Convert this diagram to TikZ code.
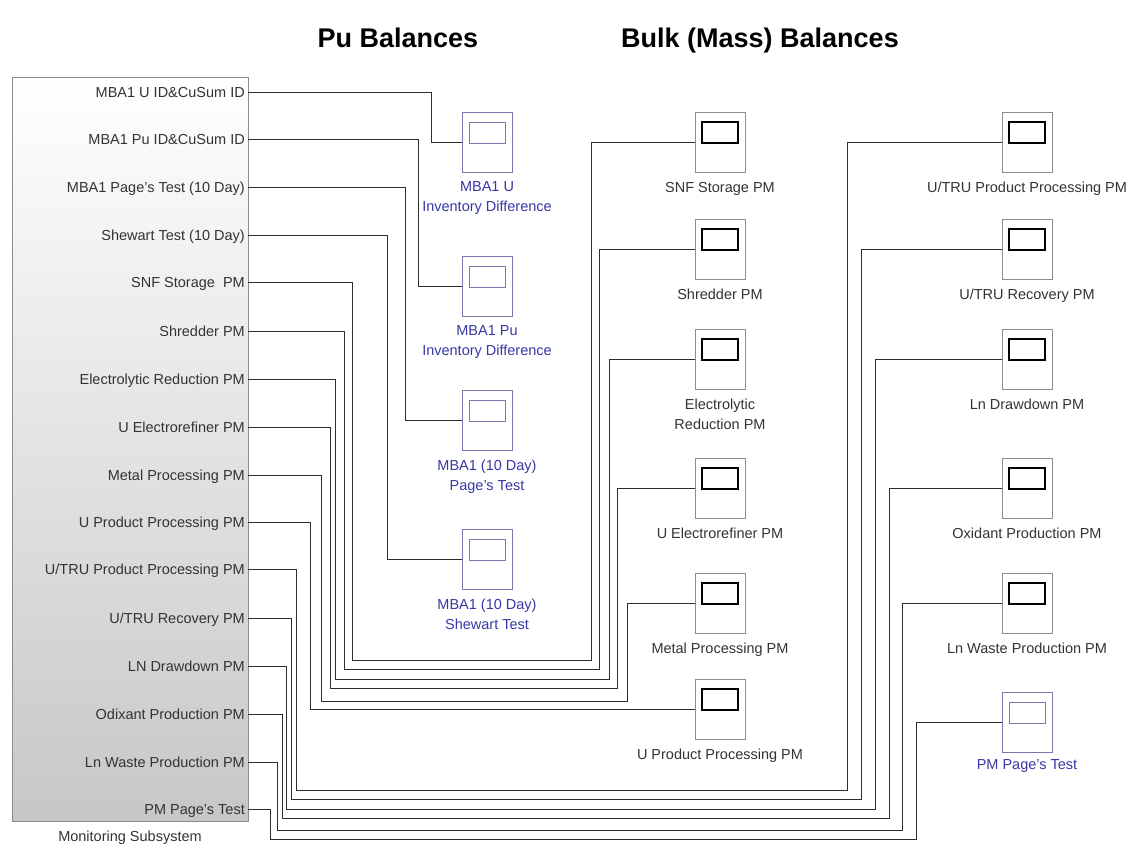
\documentclass[tikz,border=0pt]{standalone}
\usepackage{fontspec}
\setmainfont{Liberation Sans}
\usepackage{tikz}
\usetikzlibrary{positioning}

\definecolor{publue}{RGB}{55,55,165}
\definecolor{puframe}{RGB}{120,120,175}
\definecolor{wirecol}{RGB}{45,45,45}

\begin{document}
\begin{tikzpicture}[
  x=1pt, y=-1pt,
  font=\fontsize{14.5}{20}\selectfont,
  block/.style={draw=black!45, top color=white, bottom color=black!22, minimum width=236pt, minimum height=744pt, inner sep=0pt},
  port/.style={anchor=east, inner xsep=3pt, inner ysep=0pt, text height=11pt, text depth=0pt, text=black!80},
  puscope/.style={draw=puframe, minimum width=50pt, minimum height=60pt, inner sep=0pt,
    path picture={\draw[draw=puframe] ([shift={(7pt,-10pt)}]path picture bounding box.north west) rectangle ++(36pt,-21pt);}},
  bulkscope/.style={draw=black!45, minimum width=50pt, minimum height=60pt, inner sep=0pt,
    path picture={\draw[draw=black, line width=1.6pt] ([shift={(7pt,-10pt)}]path picture bounding box.north west) rectangle ++(36pt,-21pt);}},
  pulabel/.style={text=publue, align=center, inner sep=2pt},
  bulklabel/.style={text=black!80, align=center, inner sep=2pt},
  wire/.style={draw=wirecol, line width=0.7pt},
  title/.style={anchor=base, font=\fontsize{27}{30}\selectfont\bfseries}
]
\useasboundingbox (0,0) rectangle (1134,846);

% headings
\node[title] (putitle) at (398,47) {Pu Balances};
\node[title] (bulktitle) at (760,47) {Bulk (Mass) Balances};

% monitoring subsystem block
\node[block] (mon) at (130,449) {};
\node[below=8pt of mon, inner sep=2pt, text=black!80] (monlabel) {Monitoring Subsystem};

% output ports
\node[port] (p1) at (248,92) {MBA1 U ID\&CuSum ID};
\node[port] (p2) at (248,139) {MBA1 Pu ID\&CuSum ID};
\node[port] (p3) at (248,187) {MBA1 Page's Test (10 Day)};
\node[port] (p4) at (248,235) {Shewart Test (10 Day)};
\node[port] (p5) at (248,282) {SNF Storage\ \ PM};
\node[port] (p6) at (248,331) {Shredder PM};
\node[port] (p7) at (248,379) {Electrolytic Reduction PM};
\node[port] (p8) at (248,427) {U Electrorefiner PM};
\node[port] (p9) at (248,475) {Metal Processing PM};
\node[port] (p10) at (248,522) {U Product Processing PM};
\node[port] (p11) at (248,569) {U/TRU Product Processing PM};
\node[port] (p12) at (248,618) {U/TRU Recovery PM};
\node[port] (p13) at (248,666) {LN Drawdown PM};
\node[port] (p14) at (248,714) {Odixant Production PM};
\node[port] (p15) at (248,762) {Ln Waste Production PM};
\node[port] (p16) at (248,809) {PM Page's Test};

% Pu balance scopes
\node[puscope] (s1) at (487,142) {};
\node[pulabel, below=7.5pt of s1] (s1l) {MBA1 U\\Inventory Difference};
\node[puscope] (s2) at (487,286) {};
\node[pulabel, below=7.5pt of s2] (s2l) {MBA1 Pu\\Inventory Difference};
\node[puscope] (s3) at (487,420) {};
\node[pulabel, below=7.5pt of s3] (s3l) {MBA1 (10 Day)\\Page's Test};
\node[puscope] (s4) at (487,559) {};
\node[pulabel, below=7.5pt of s4] (s4l) {MBA1 (10 Day)\\Shewart Test};

% bulk balance scopes
\node[bulkscope] (b1) at (720,142) {};
\node[bulklabel, below=7.5pt of b1] (b1l) {SNF Storage PM};
\node[bulkscope] (b2) at (720,249) {};
\node[bulklabel, below=7.5pt of b2] (b2l) {Shredder PM};
\node[bulkscope] (b3) at (720,359) {};
\node[bulklabel, below=7.5pt of b3] (b3l) {Electrolytic\\Reduction PM};
\node[bulkscope] (b4) at (720,488) {};
\node[bulklabel, below=7.5pt of b4] (b4l) {U Electrorefiner PM};
\node[bulkscope] (b5) at (720,603) {};
\node[bulklabel, below=7.5pt of b5] (b5l) {Metal Processing PM};
\node[bulkscope] (b6) at (720,709) {};
\node[bulklabel, below=7.5pt of b6] (b6l) {U Product Processing PM};

\node[bulkscope] (c1) at (1027,142) {};
\node[bulklabel, below=7.5pt of c1] (c1l) {U/TRU Product Processing PM};
\node[bulkscope] (c2) at (1027,249) {};
\node[bulklabel, below=7.5pt of c2] (c2l) {U/TRU Recovery PM};
\node[bulkscope] (c3) at (1027,359) {};
\node[bulklabel, below=7.5pt of c3] (c3l) {Ln Drawdown PM};
\node[bulkscope] (c4) at (1027,488) {};
\node[bulklabel, below=7.5pt of c4] (c4l) {Oxidant Production PM};
\node[bulkscope] (c5) at (1027,603) {};
\node[bulklabel, below=7.5pt of c5] (c5l) {Ln Waste Production PM};
\node[puscope] (c6) at (1027,722) {};
\node[pulabel, below=5pt of c6] (c6l) {PM Page's Test};

% wiring to the Pu scopes
\draw[wire] (p1.east) -- ++(183,0) |- (s1.west);
\draw[wire] (p2.east) -- ++(170,0) |- (s2.west);
\draw[wire] (p3.east) -- ++(157,0) |- (s3.west);
\draw[wire] (p4.east) -- ++(139,0) |- (s4.west);

% wiring to the bulk scopes, middle column
\draw[wire] (p5.east) -- ++(104,0) |- (591,660) |- (b1.west);
\draw[wire] (p6.east) -- ++(96,0) |- (599,669) |- (b2.west);
\draw[wire] (p7.east) -- ++(87,0) |- (609,679) |- (b3.west);
\draw[wire] (p8.east) -- ++(82,0) |- (617,688) |- (b4.west);
\draw[wire] (p9.east) -- ++(73,0) |- (627,701) |- (b5.west);
\draw[wire] (p10.east) -- ++(62,0) |- (b6.west);

% wiring to the bulk scopes, right column
\draw[wire] (p11.east) -- ++(48,0) |- (847,790) |- (c1.west);
\draw[wire] (p12.east) -- ++(43,0) |- (861,799) |- (c2.west);
\draw[wire] (p13.east) -- ++(38,0) |- (875,809) |- (c3.west);
\draw[wire] (p14.east) -- ++(34,0) |- (889,818) |- (c4.west);
\draw[wire] (p15.east) -- ++(29,0) |- (902,830) |- (c5.west);
\draw[wire] (p16.east) -- ++(22,0) |- (916,839) |- (c6.west);
\end{tikzpicture}
\end{document}
